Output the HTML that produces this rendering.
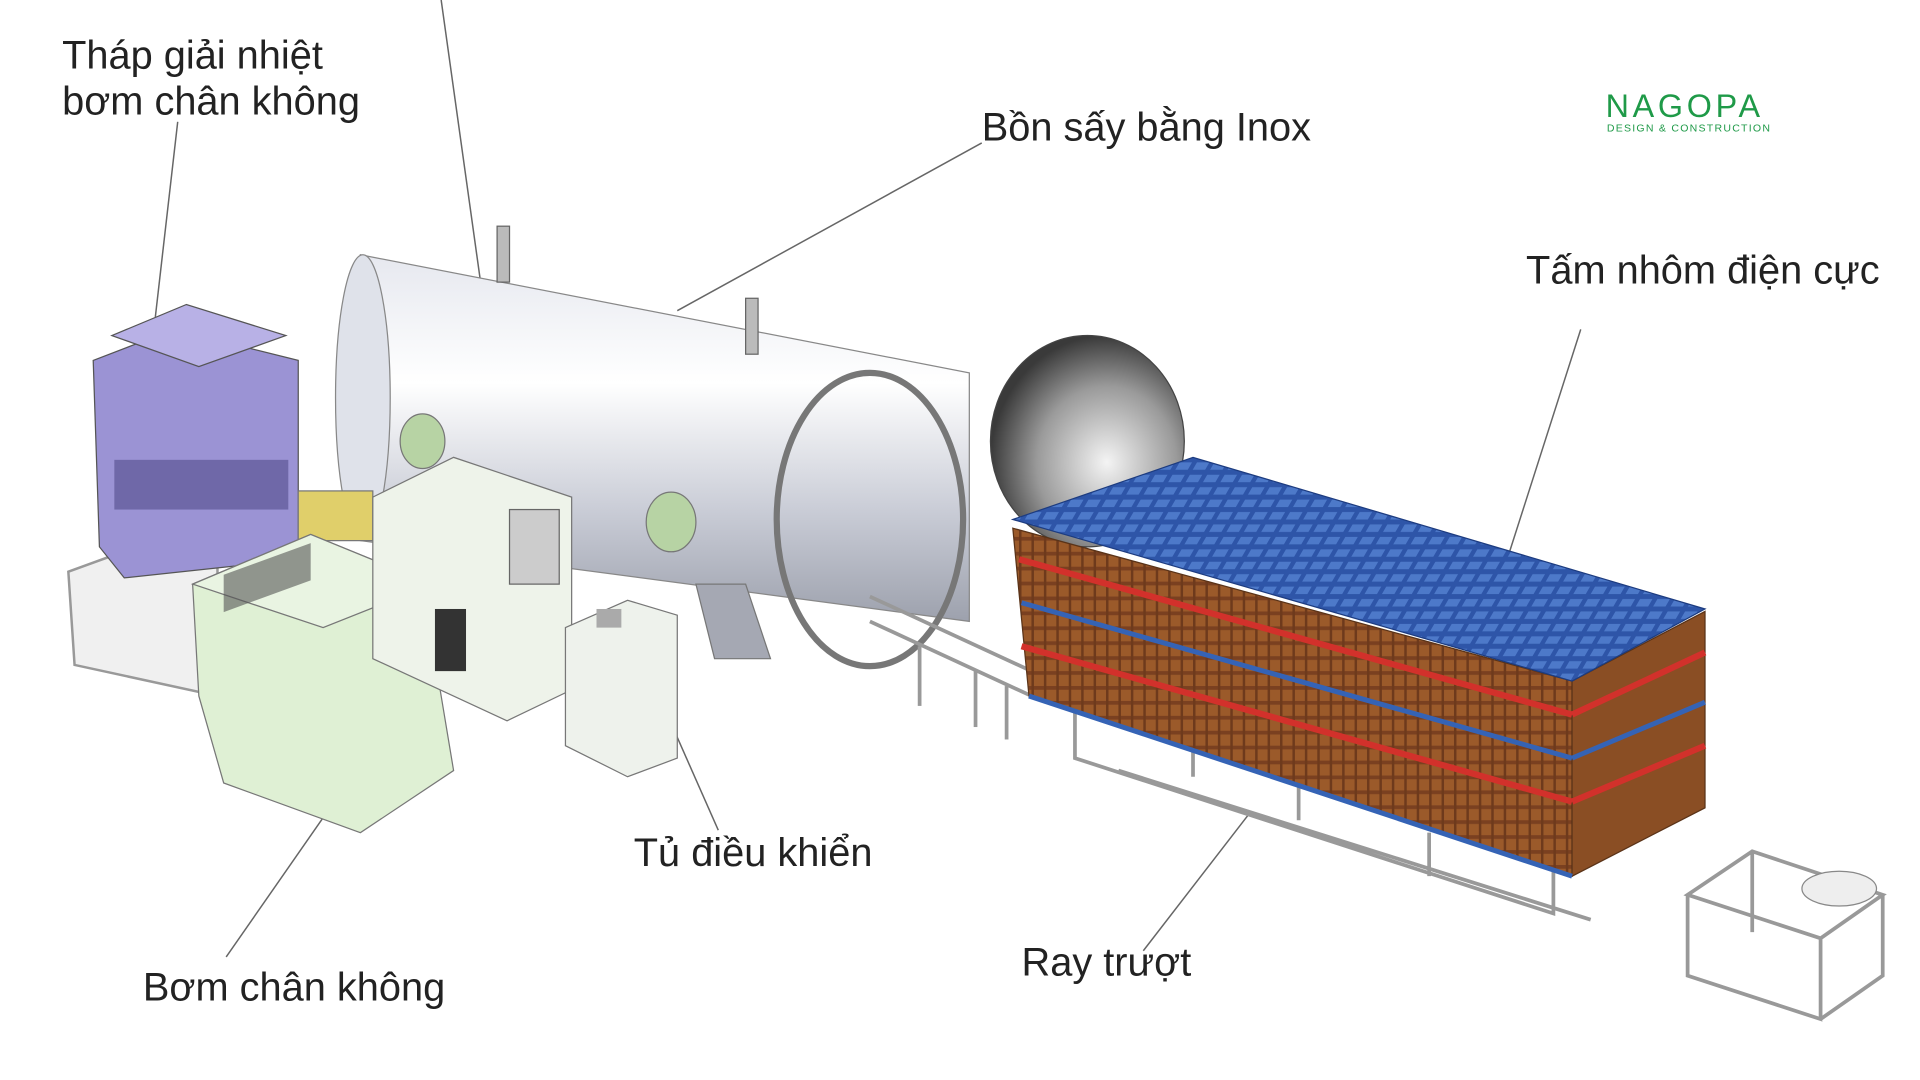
<!DOCTYPE html>
<html><head><meta charset="utf-8"><style>
html,body{margin:0;padding:0;background:#fff;width:1920px;height:1080px;overflow:hidden}
svg{display:block}
text{font-family:"Liberation Sans",sans-serif;fill:#222}
</style></head><body>
<svg width="1920" height="1080" viewBox="0 0 1545 869" preserveAspectRatio="none">
<defs>
<linearGradient id="tank" x1="0" y1="0" x2="0" y2="1">
<stop offset="0" stop-color="#e6e8ef"/><stop offset="0.35" stop-color="#ffffff"/><stop offset="0.7" stop-color="#c9ccd6"/><stop offset="1" stop-color="#9da1ad"/></linearGradient>
<radialGradient id="door" cx="0.6" cy="0.6" r="0.6"><stop offset="0" stop-color="#f4f4f4"/><stop offset="0.6" stop-color="#9a9a9a"/><stop offset="1" stop-color="#3a3a3a"/></radialGradient>
<pattern id="grid" width="14" height="10" patternUnits="userSpaceOnUse" patternTransform="skewX(-30)"><rect width="14" height="10" fill="#2e55a8"/><rect x="2" y="2" width="10" height="6" fill="#4d79c9"/></pattern>
<pattern id="wood" width="10" height="12" patternUnits="userSpaceOnUse"><rect width="10" height="12" fill="#9b5a2a"/><rect y="0" width="10" height="3" fill="#7a4020"/><rect x="0" width="2" height="12" fill="#6e3a1c"/></pattern>
</defs>
<rect width="1545" height="869" fill="#fff"/>
<!-- leader lines -->
<g stroke="#666" stroke-width="1.2" fill="none">
<line x1="355" y1="0" x2="412" y2="408"/>
<line x1="143" y1="98" x2="125" y2="255"/>
<line x1="790" y1="115" x2="545" y2="250"/>
<line x1="1272" y1="265" x2="1208" y2="465"/>
<line x1="540" y1="582" x2="578" y2="668"/>
<line x1="1005" y1="655" x2="920" y2="765"/>
<line x1="285" y1="622" x2="182" y2="770"/>
</g>
<!-- tank -->
<path d="M290 205 L780 300 L780 500 L290 435 Z" fill="url(#tank)" stroke="#888"/>
<ellipse cx="292" cy="320" rx="22" ry="115" fill="#dfe2ea" stroke="#888"/>
<path d="M560 470 L600 470 L620 530 L575 530 Z" fill="#a5a8b3" stroke="#777"/>
<ellipse cx="340" cy="355" rx="18" ry="22" fill="#b7d3a4" stroke="#777"/>
<ellipse cx="540" cy="420" rx="20" ry="24" fill="#b7d3a4" stroke="#777"/>
<rect x="400" y="182" width="10" height="45" fill="#bbb" stroke="#666"/>
<rect x="600" y="240" width="10" height="45" fill="#bbb" stroke="#666"/>
<!-- door -->
<ellipse cx="875" cy="355" rx="78" ry="85" fill="url(#door)" stroke="#444"/>
<ellipse cx="700" cy="418" rx="75" ry="118" fill="none" stroke="#777" stroke-width="5"/>
<!-- rail -->
<g stroke="#999" stroke-width="3" fill="none">
<line x1="700" y1="480" x2="830" y2="540"/><line x1="700" y1="500" x2="830" y2="560"/>
<line x1="740" y1="520" x2="740" y2="568"/><line x1="785" y1="540" x2="785" y2="585"/><line x1="810" y1="552" x2="810" y2="595"/>
<path d="M865 570 L865 610 L1250 735 L1250 700 M900 620 L1280 740 M1045 660 L1045 630 M960 625 L960 600 M1150 705 L1150 670"/>
</g>
<!-- electrode stack -->
<path d="M815 425 L1265 548 L1265 705 L828 560 Z" fill="url(#wood)" stroke="#5a3318"/>
<path d="M1265 548 L1372 492 L1372 650 L1265 705 Z" fill="#8a4e24" stroke="#5a3318"/>
<g stroke="#d2312b" stroke-width="5"><line x1="820" y1="450" x2="1265" y2="575"/><line x1="822" y1="520" x2="1265" y2="645"/><line x1="1265" y1="575" x2="1372" y2="525"/><line x1="1265" y1="645" x2="1372" y2="600"/></g>
<g stroke="#3563b5" stroke-width="4"><line x1="822" y1="485" x2="1265" y2="610"/><line x1="828" y1="560" x2="1265" y2="705"/><line x1="1265" y1="610" x2="1372" y2="565"/></g>
<path d="M815 418 L960 368 L1372 490 L1265 548 Z" fill="url(#grid)" stroke="#1d3c80"/>
<!-- small frame right -->
<g stroke="#999" stroke-width="3" fill="none"><path d="M1358 720 L1410 685 L1515 720 L1465 755 Z M1358 720 L1358 785 L1465 820 L1465 755 M1515 720 L1515 785 L1465 820 M1410 685 L1410 750"/></g>
<ellipse cx="1480" cy="715" rx="30" ry="14" fill="#eee" stroke="#888"/>
<!-- left equipment -->
<path d="M55 460 L110 440 L175 455 L175 560 L60 535 Z" fill="#f0f0f0" stroke="#999" stroke-width="2"/>
<path d="M75 290 L140 265 L240 290 L240 450 L100 465 L80 440 Z" fill="#9b93d4" stroke="#555"/>
<path d="M90 270 L150 245 L230 270 L160 295 Z" fill="#b8b1e6" stroke="#555"/>
<rect x="92" y="370" width="140" height="40" fill="#6f68a8"/>
<rect x="240" y="395" width="60" height="40" fill="#e0cf6a" stroke="#777"/>
<path d="M155 470 L250 430 L348 470 L350 530 L365 620 L290 670 L180 630 L160 560 Z" fill="#dff0d4" stroke="#777"/>
<path d="M155 470 L250 430 L348 470 L260 505 Z" fill="#e9f4e2" stroke="#777"/>
<rect x="180" y="448" width="70" height="30" fill="#555" opacity="0.6" transform="skewY(-20) translate(0,80)"/>
<path d="M300 400 L365 368 L460 400 L460 555 L408 580 L300 530 Z" fill="#eef3ea" stroke="#777"/>
<rect x="410" y="410" width="40" height="60" fill="#ccc" stroke="#666"/>
<rect x="350" y="490" width="25" height="50" fill="#333"/>
<path d="M455 505 L505 483 L545 495 L545 610 L505 625 L455 600 Z" fill="#eef2ec" stroke="#777"/>
<rect x="480" y="490" width="20" height="15" fill="#aaa"/>
<!-- labels -->
<g font-size="32">
<text x="50" y="55">Tháp giải nhiệt</text>
<text x="50" y="92">bơm chân không</text>
<text x="790" y="113">Bồn sấy bằng Inox</text>
<text x="1228" y="228">Tấm nhôm điện cực</text>
<text x="510" y="697">Tủ điều khiển</text>
<text x="822" y="785">Ray trượt</text>
<text x="115" y="805">Bơm chân không</text>
</g>
<text x="1292" y="94" font-size="26" style="fill:#1f9a48;letter-spacing:3px">NAGOPA</text>
<text x="1293" y="106" font-size="8.5" style="fill:#1f9a48;letter-spacing:1px">DESIGN &amp; CONSTRUCTION</text>
</svg>
</body></html>
